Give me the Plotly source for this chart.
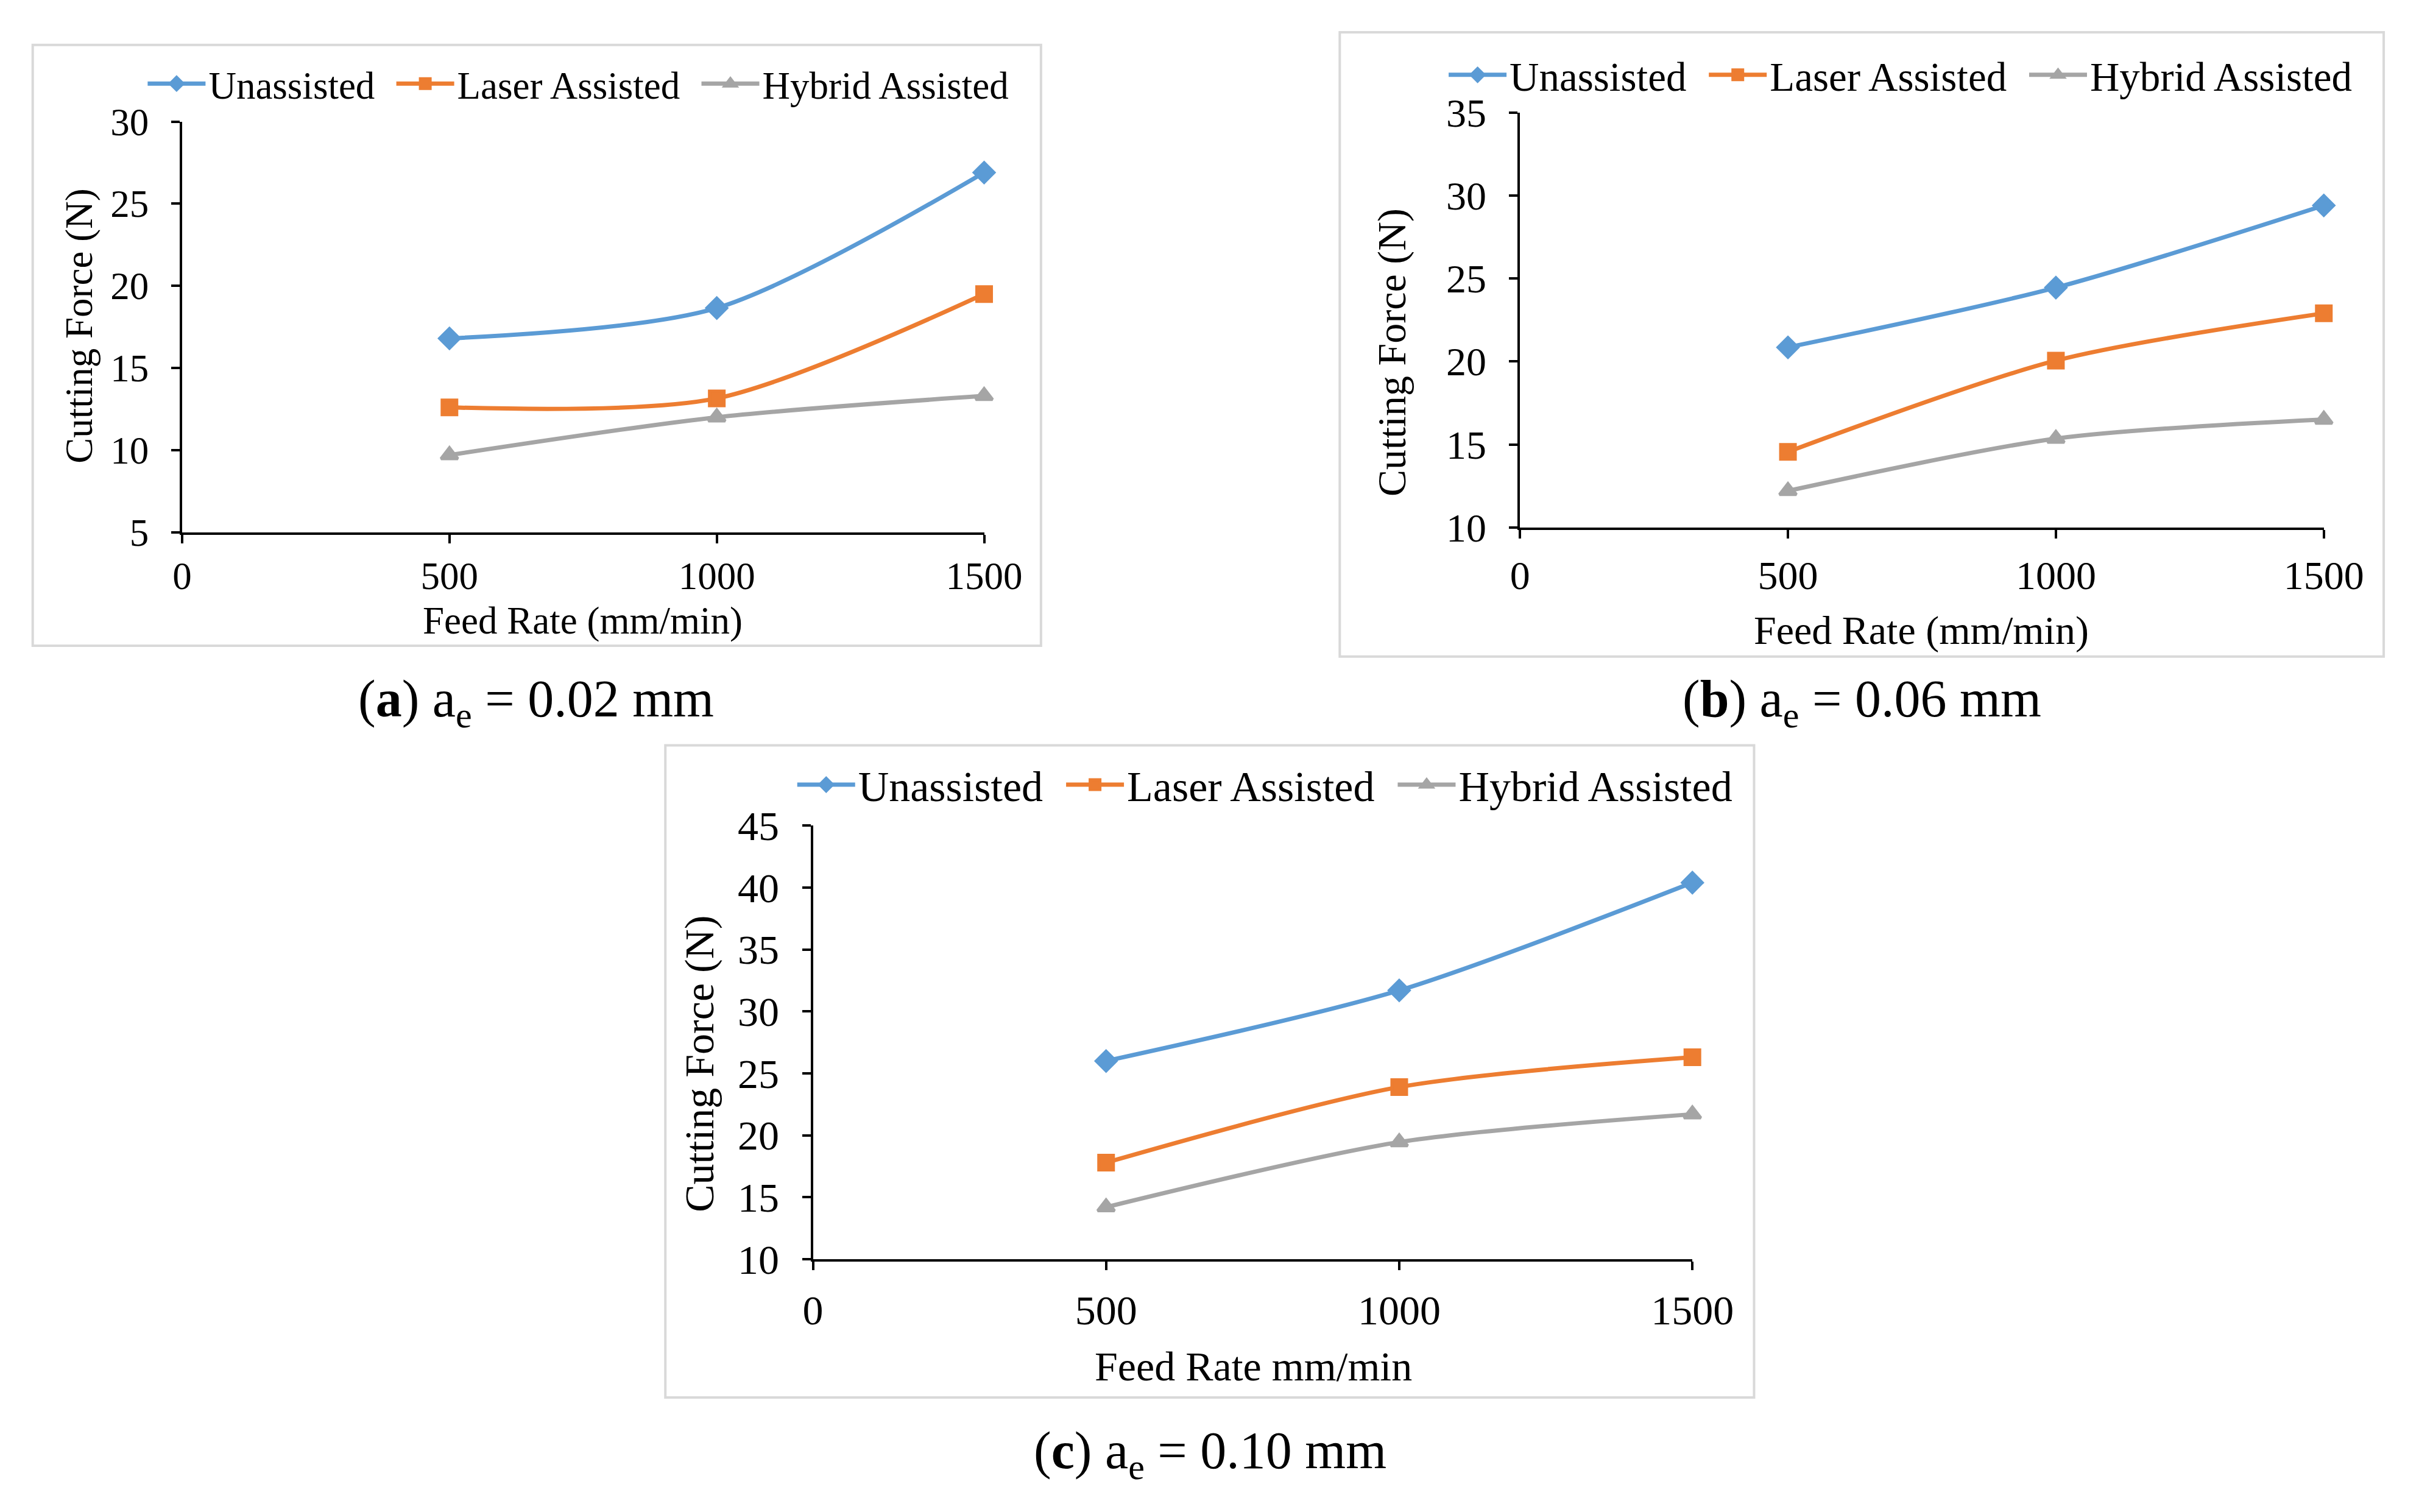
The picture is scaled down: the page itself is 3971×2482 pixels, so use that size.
import plotly.graph_objects as go

W, H = 3971, 2482
FONT = "Liberation Serif, Times New Roman, serif"

feed_rate = [500, 1000, 1500]
series_names = ["Unassisted\u2009\u2009", "Laser Assisted\u2009\u2009", "Hybrid Assisted"]

# panel (a) ae = 0.02 mm
a_unassisted = [16.8, 18.65, 26.9]
a_laser = [12.6, 13.15, 19.5]
a_hybrid = [9.7, 12.0, 13.3]
# panel (b) ae = 0.06 mm
b_unassisted = [20.85, 24.45, 29.4]
b_laser = [14.55, 20.05, 22.9]
b_hybrid = [12.2, 15.35, 16.5]
# panel (c) ae = 0.10 mm
c_unassisted = [26.0, 31.7, 40.4]
c_laser = [17.8, 23.9, 26.3]
c_hybrid = [14.2, 19.45, 21.7]

x_ticks = [0, 500, 1000, 1500]
colors = ["#5B9BD5", "#ED7D31", "#A5A5A5"]
symbols = ["diamond", "square", "triangle-up"]
msizes = [25, 24, 24]

# the photographed page comes out slightly scaled/offset; compensate
SX, OX = 0.9856, 22.1
SY, OY = 0.978, 40.0
K = 1 / ((SX + SY) / 2)


def px_x(v):
    return ((v - OX) / SX) / W


def px_y(v):
    return 1 - ((v - OY) / SY) / H


FS_CAP = round(84 * K)

panels = [
    dict(data=[a_unassisted, a_laser, a_hybrid], yr=[5, 30], dtick=5, fs=62, lfs=62, xstand=0,
         dom_x=[px_x(298), px_x(1624)], dom_y=[px_y(876), px_y(196)],
         legend="legend", leg_xy=(px_x(236), px_y(133)),
         xtitle="Feed Rate (mm/min)", xt_xy=(px_x(960), px_y(1023)),
         yt_xy=(px_x(127), px_y(535)),
         cap="(<b>a</b>) a<sub>e</sub> = 0.02 mm", cap_xy=(px_x(883), px_y(1158)),
         frame=(51, 69, 1718, 1064)),
    dict(data=[b_unassisted, b_laser, b_hybrid], yr=[10, 35], dtick=5, fs=65, lfs=66, xstand=4,
         dom_x=[px_x(2510), px_x(3839)], dom_y=[px_y(868), px_y(181)],
         legend="legend2", leg_xy=(px_x(2387), px_y(119)),
         xtitle="Feed Rate (mm/min)", xt_xy=(px_x(3174), px_y(1039)),
         yt_xy=(px_x(2299), px_y(578)),
         cap="(<b>b</b>) a<sub>e</sub> = 0.06 mm", cap_xy=(px_x(3075), px_y(1158)),
         frame=(2212, 48, 3938, 1082)),
    dict(data=[c_unassisted, c_laser, c_hybrid], yr=[10, 45], dtick=5, fs=67, lfs=69, xstand=7,
         dom_x=[px_x(1341), px_x(2795)], dom_y=[px_y(2080), px_y(1362)],
         legend="legend3", leg_xy=(px_x(1310), px_y(1294)),
         xtitle="Feed Rate mm/min", xt_xy=(px_x(2069), px_y(2258)),
         yt_xy=(px_x(1153), px_y(1756)),
         cap="(<b>c</b>) a<sub>e</sub> = 0.10 mm", cap_xy=(px_x(1998), px_y(2403)),
         frame=(1097, 1229, 2897, 2309)),
]

fig = go.Figure()
layout = dict(
    width=W, height=H, margin=dict(l=0, r=0, t=0, b=0),
    paper_bgcolor="white", plot_bgcolor="white",
    font=dict(family=FONT, size=round(62 * K), color="black"),
    showlegend=True,
)
annotations = []
shapes = []

for i, p in enumerate(panels):
    n = "" if i == 0 else str(i + 1)
    xa, ya = "x" + n, "y" + n
    fs = round(p["fs"] * K)
    lfs = round(p["lfs"] * K)
    for j in range(3):
        fig.add_trace(go.Scatter(
            x=feed_rate, y=p["data"][j], name=series_names[j],
            mode="lines+markers",
            line=dict(color=colors[j], width=7, shape="spline", smoothing=0.8),
            marker=dict(symbol=symbols[j], size=msizes[j], color=colors[j],
                        line=dict(color=colors[j], width=5)),
            xaxis=xa, yaxis=ya, legend=p["legend"], cliponaxis=False,
        ))
    axis_common = dict(showgrid=False, zeroline=False, showline=True, linecolor="black",
                       linewidth=4, ticks="outside", tickcolor="black", tickwidth=4,
                       ticklen=14, tickfont=dict(family=FONT, size=fs, color="black"))
    layout["xaxis" + n] = dict(domain=p["dom_x"], range=[0, 1500], tickvals=x_ticks,
                               anchor=ya, ticklabelstandoff=p["xstand"], **axis_common)
    layout["yaxis" + n] = dict(domain=p["dom_y"], range=p["yr"], dtick=p["dtick"],
                               tick0=0, anchor=xa, ticklabelstandoff=24, **axis_common)
    layout[p["legend"]] = dict(orientation="h", x=p["leg_xy"][0], y=p["leg_xy"][1],
                               xanchor="left", yanchor="middle", bgcolor="rgba(0,0,0,0)",
                               itemwidth=95, font=dict(family=FONT, size=lfs, color="black"),
                               tracegroupgap=0, itemclick=False)
    annotations.append(dict(text=p["xtitle"], x=p["xt_xy"][0], y=p["xt_xy"][1],
                            xref="paper", yref="paper", showarrow=False,
                            xanchor="center", yanchor="middle",
                            font=dict(family=FONT, size=fs, color="black")))
    annotations.append(dict(text="Cutting Force (N)", x=p["yt_xy"][0], y=p["yt_xy"][1],
                            xref="paper", yref="paper", showarrow=False, textangle=-90,
                            xanchor="center", yanchor="middle",
                            font=dict(family=FONT, size=fs, color="black")))
    annotations.append(dict(text=p["cap"], x=p["cap_xy"][0], y=p["cap_xy"][1],
                            xref="paper", yref="paper", showarrow=False,
                            xanchor="center", yanchor="middle",
                            font=dict(family=FONT, size=FS_CAP, color="black")))
    fx0, fy0, fx1, fy1 = p["frame"]
    shapes.append(dict(type="rect", xref="paper", yref="paper",
                       x0=px_x(fx0), x1=px_x(fx1), y0=px_y(fy1), y1=px_y(fy0),
                       line=dict(color="#D9D9D9", width=4), fillcolor="rgba(0,0,0,0)",
                       layer="below"))

layout["annotations"] = annotations
layout["shapes"] = shapes
fig.update_layout(**layout)
fig.write_html("out.html")
